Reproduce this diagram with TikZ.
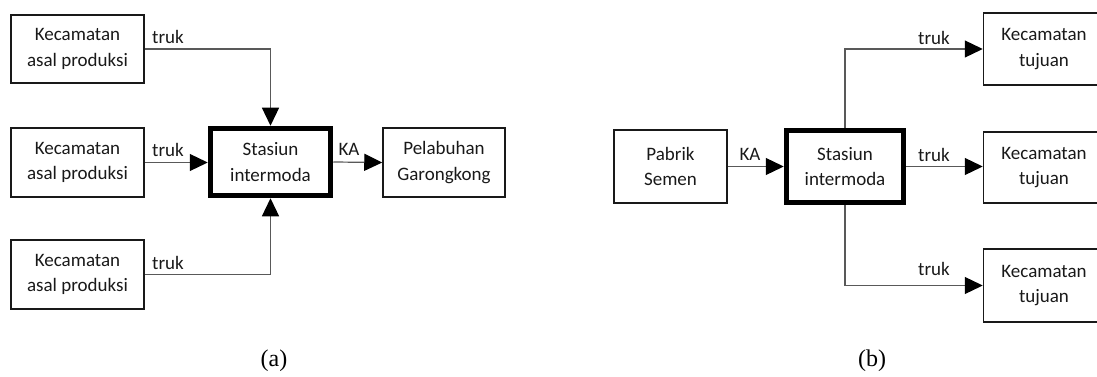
\documentclass[tikz,border=0pt]{standalone}
\usepackage{fontspec}
\setmainfont{Carlito}
\newfontfamily\capfont{Liberation Serif}
\usetikzlibrary{arrows.meta}
\begin{document}
\begin{tikzpicture}[x=1pt,y=-1pt,
  every node/.style={font=\fontsize{19}{25.5}\selectfont, text=black!90},
  box/.style={draw=black!90, line width=1.5pt, rectangle, inner sep=0pt, align=center},
  hub/.style={draw=black, line width=5.5pt, rectangle, inner sep=0pt, align=center},
  link/.style={draw=black!65, line width=1.2pt, -{Triangle[length=18pt,width=17pt,color=black]}},
  lbl/.style={inner sep=0pt},
  subcap/.style={font=\capfont\fontsize{24}{28}\selectfont, text=black}]
\useasboundingbox (0,0) rectangle (1097,377);

% (a) collection towards the port
\node[box, minimum width=133pt, minimum height=68pt] (a1) at (77.5,49) {Kecamatan\\asal produksi};
\node[box, minimum width=133pt, minimum height=69pt] (a2) at (77.5,162.5) {Kecamatan\\asal produksi};
\node[box, minimum width=133pt, minimum height=69pt] (a3) at (77.5,274.5) {Kecamatan\\asal produksi};
\node[hub, minimum width=120pt, minimum height=67pt] (sa) at (270.5,162) {Stasiun\\intermoda};
\node[box, minimum width=122pt, minimum height=69pt] (pg) at (444,162.5) {Pelabuhan\\Garongkong};

\draw[link] (a1.east) -| (sa.north);
\draw[link] (a2.east) -- (a2.east -| sa.west);
\draw[link] (a3.east) -| (sa.south);
\draw[link] (sa.east) -- (pg.west);

\node[lbl] (t1) at (168,37) {truk};
\node[lbl] (t2) at (168,150) {truk};
\node[lbl] (t3) at (168,263) {truk};
\node[lbl] (ka1) at (349,149) {KA};

\node[subcap] (capa) at (274,361) {(a)};

% (b) distribution from the cement plant
\node[box, minimum width=113pt, minimum height=73pt] (pb) at (670.5,166.5) {Pabrik\\Semen};
\node[hub, minimum width=117pt, minimum height=72pt] (sb) at (845,166.5) {Stasiun\\intermoda};
\node[box, minimum width=121pt, minimum height=72pt] (k1) at (1044,49) {Kecamatan\\tujuan};
\node[box, minimum width=121pt, minimum height=71pt] (k2) at (1044,167.5) {Kecamatan\\tujuan};
\node[box, minimum width=121pt, minimum height=73pt] (k3) at (1044,285.5) {Kecamatan\\tujuan};

\draw[link] (pb.east) -- (pb.east -| sb.west);
\draw[link] (sb.north) |- (k1.west);
\draw[link] (sb.east) -- (sb.east -| k2.west);
\draw[link] (sb.south) |- (k3.west);

\node[lbl] (ka2) at (750,154) {KA};
\node[lbl] (t4) at (934,38) {truk};
\node[lbl] (t5) at (934,155) {truk};
\node[lbl] (t6) at (934,269) {truk};

\node[subcap] (capb) at (872,361) {(b)};
\end{tikzpicture}
\end{document}
